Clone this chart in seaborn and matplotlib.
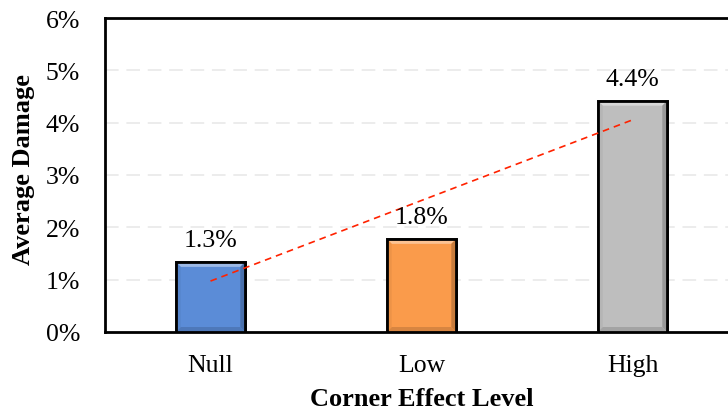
import numpy as np
import pandas as pd
import matplotlib
matplotlib.use("Agg")
import matplotlib.pyplot as plt
import seaborn as sns
from matplotlib.patches import Polygon
from matplotlib.ticker import FuncFormatter, FixedLocator

# Average damage (%) for each corner effect level
levels = ["Null", "Low", "High"]
damage = [1.34, 1.78, 4.42]
bar_colors = ["#5B8CD7", "#FA9B4B", "#BEBEBE"]
y_ticks = [0, 1, 2, 3, 4, 5, 6]

sns.set_theme(style="white")
plt.rcParams["font.family"] = ["Liberation Serif", "DejaVu Serif"]
plt.rcParams["text.color"] = "black"
plt.rcParams["axes.labelcolor"] = "black"

df = pd.DataFrame({"level": levels, "damage": damage})

fig = plt.figure(figsize=(7.28, 4.14), dpi=100)
ax = fig.add_axes([105 / 728, 81 / 414, 633 / 728, 314 / 414])

sns.barplot(data=df, x="level", y="damage", hue="level", palette=bar_colors,
            order=levels, hue_order=levels, width=0.33, dodge=False,
            saturation=1, edgecolor="black", linewidth=2.0, legend=False,
            ax=ax, zorder=3)

ax.set_xlim(-0.5, 2.5)
ax.set_ylim(0, 6)

# dashed light gridlines
for t in y_ticks[1:-1]:
    ax.axhline(t, color="#ECECEC", lw=1.4, ls=(0, (7, 4)), zorder=1)

# bevelled look on each bar
fig.canvas.draw()
inv = ax.transData.inverted()
for patch, col in zip(ax.patches, bar_colors):
    x0, y0 = patch.get_x(), patch.get_y()
    w, h = patch.get_width(), patch.get_height()
    p0 = ax.transData.transform((x0, y0))
    p1 = ax.transData.transform((x0 + w, y0 + h))
    b = 5.0
    (ix0, iy0) = inv.transform((p0[0] + b, p0[1] + b))
    (ix1, iy1) = inv.transform((p1[0] - b, p1[1] - b))
    rgb = np.array(matplotlib.colors.to_rgb(col))
    light = np.clip(rgb + (1 - rgb) * 0.4, 0, 1)
    ax.add_patch(Polygon([(x0, y0 + h), (x0 + w, y0 + h), (ix1, iy1), (ix0, iy1)],
                         closed=True, facecolor=light, edgecolor="none", zorder=3.5))
    ax.add_patch(Polygon([(x0 + w, y0), (x0 + w, y0 + h), (ix1, iy1), (ix1, iy0)],
                         closed=True, facecolor=rgb * 0.8, edgecolor="none", zorder=3.5))
    ax.add_patch(Polygon([(x0, y0), (x0 + w, y0), (ix1, iy0), (ix0, iy0)],
                         closed=True, facecolor=rgb * 0.86, edgecolor="none", zorder=3.5))
    ax.add_patch(Polygon([(x0, y0), (x0, y0 + h), (ix0, iy1), (ix0, iy0)],
                         closed=True, facecolor=rgb * 0.95, edgecolor="none", zorder=3.5))
    ax.add_patch(plt.Rectangle((x0, y0), w, h, facecolor="none",
                               edgecolor="black", lw=2.0, zorder=3.8))

# value labels
for i, v in enumerate(damage):
    ax.annotate(f"{v:.1f}%", (i, v), xytext=(0, 8), textcoords="offset points",
                ha="center", va="bottom", fontsize=18.5, color="black", zorder=5)

# linear trend line
xi = np.arange(len(levels))
slope, icpt = np.polyfit(xi, damage, 1)
ax.plot(xi[[0, -1]], icpt + slope * xi[[0, -1]], color="#FF2200", lw=1.2,
        ls=(0, (4, 3)), zorder=4)

ax.yaxis.set_major_locator(FixedLocator(y_ticks))
ax.yaxis.set_major_formatter(FuncFormatter(lambda v, p: f"{v:.0f}%"))
ax.tick_params(axis="y", length=0, labelsize=18.5, pad=18, labelcolor="black")
ax.tick_params(axis="x", which="major", length=0, labelsize=18.5, pad=16,
               labelcolor="black")
ax.set_xticks([0.5, 1.5], minor=True)
ax.tick_params(axis="x", which="minor", direction="inout", length=10, width=1.5,
               color="black")

for s in ["left", "bottom", "top", "right"]:
    ax.spines[s].set_visible(True)
    ax.spines[s].set_color("black")
    ax.spines[s].set_linewidth(2.0)

ax.set_xlabel("Corner Effect Level", fontsize=19, fontweight="bold")
ax.set_ylabel("Average Damage", fontsize=19, fontweight="bold")
ax.xaxis.label.set_va("center")
ax.yaxis.label.set_va("center")
ax.xaxis.set_label_coords(0.5, -0.213)
ax.yaxis.set_label_coords(-0.128, 0.52)

fig.savefig("out.png", dpi=100)
